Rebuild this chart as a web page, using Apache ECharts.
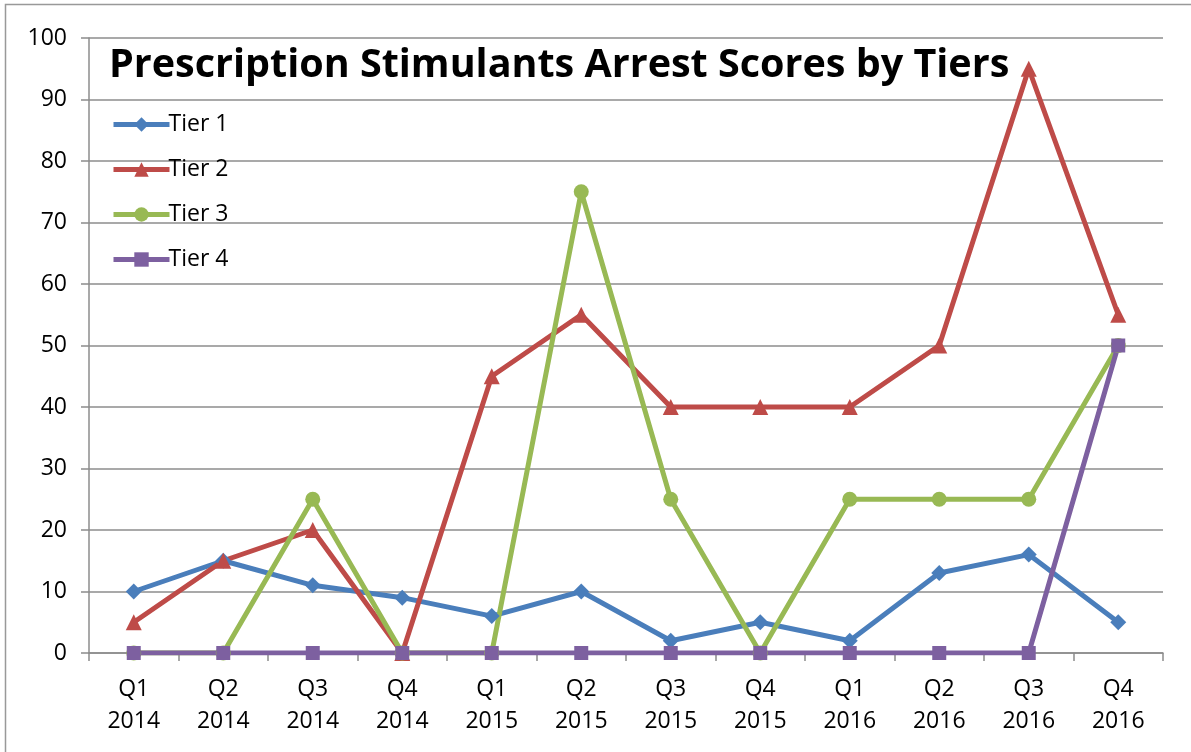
<!DOCTYPE html>
<html>
<head>
<meta charset="utf-8">
<script src="https://cdn.jsdelivr.net/npm/echarts@6/dist/echarts.min.js"></script>
<style>
  html, body { margin: 0; padding: 0; background: #fff; }
  #chart { width: 1191px; height: 752px; }
</style>
</head>
<body>
<div id="chart"></div>
<script>
var categories = ['Q1\n2014', 'Q2\n2014', 'Q3\n2014', 'Q4\n2014', 'Q1\n2015', 'Q2\n2015',
  'Q3\n2015', 'Q4\n2015', 'Q1\n2016', 'Q2\n2016', 'Q3\n2016', 'Q4\n2016']
var tier1 = [10, 15, 11, 9, 6, 10, 2, 5, 2, 13, 16, 5]
var tier2 = [5, 15, 20, 0, 45, 55, 40, 40, 40, 50, 95, 55]
var tier3 = [0, 0, 25, 0, 0, 75, 25, 0, 25, 25, 25, 50]
var tier4 = [0, 0, 0, 0, 0, 0, 0, 0, 0, 0, 0, 50]

var font = '"Open Sans", "Liberation Sans", sans-serif'

function line (name, data, color, symbol, size) {
  return {
    name: name,
    type: 'line',
    data: data,
    symbol: symbol,
    symbolSize: size,
    lineStyle: { color: color, width: 5 },
    itemStyle: { color: color },
    z: 3
  }
}

var chart = echarts.init(document.getElementById('chart'))
chart.setOption({
  backgroundColor: '#fff',
  animation: false,
  textStyle: { fontFamily: font },
  title: {
    text: 'Prescription Stimulants Arrest Scores by Tiers',
    left: 104,
    top: 41,
    textStyle: { fontSize: 39.5, fontWeight: 'bold', color: '#000', fontFamily: font }
  },
  legend: {
    orient: 'vertical',
    left: 111,
    top: 113,
    padding: 0,
    itemGap: 22,
    itemWidth: 56,
    itemHeight: 18,
    data: ['Tier 1', 'Tier 2', 'Tier 3', 'Tier 4'],
    lineStyle: { width: 5 },
    textStyle: { fontSize: 23, color: '#000', padding: [0, 0, 0, -6] }
  },
  graphic: [{
    type: 'rect',
    shape: { x: 5.5, y: 4.5, width: 1300, height: 900 },
    style: { fill: 'none', stroke: '#999', lineWidth: 1.5 },
    silent: true
  }],
  grid: { left: 89, right: 28, top: 38, bottom: 99 },
  xAxis: {
    type: 'category',
    data: categories,
    boundaryGap: true,
    axisLine: { lineStyle: { color: '#8c8c8c', width: 1.5 } },
    axisTick: { show: true, length: 8, lineStyle: { color: '#8c8c8c', width: 1.5 } },
    axisLabel: { fontSize: 23, color: '#000', lineHeight: 32, margin: 20 }
  },
  yAxis: {
    type: 'value',
    min: 0,
    max: 100,
    interval: 10,
    axisLine: { show: true, lineStyle: { color: '#8c8c8c', width: 1.5 } },
    axisTick: { show: true, length: 8, lineStyle: { color: '#8c8c8c', width: 1.5 } },
    splitLine: { lineStyle: { color: '#8c8c8c', width: 1.5 } },
    axisLabel: { fontSize: 23, color: '#000', margin: 22 }
  },
  series: [
    line('Tier 1', tier1, '#4a7ebb', 'diamond', 16),
    line('Tier 2', tier2, '#be4b48', 'triangle', 16),
    line('Tier 3', tier3, '#98b954', 'circle', 15),
    line('Tier 4', tier4, '#7d60a0', 'rect', 14)
  ]
})
</script>
</body>
</html>
